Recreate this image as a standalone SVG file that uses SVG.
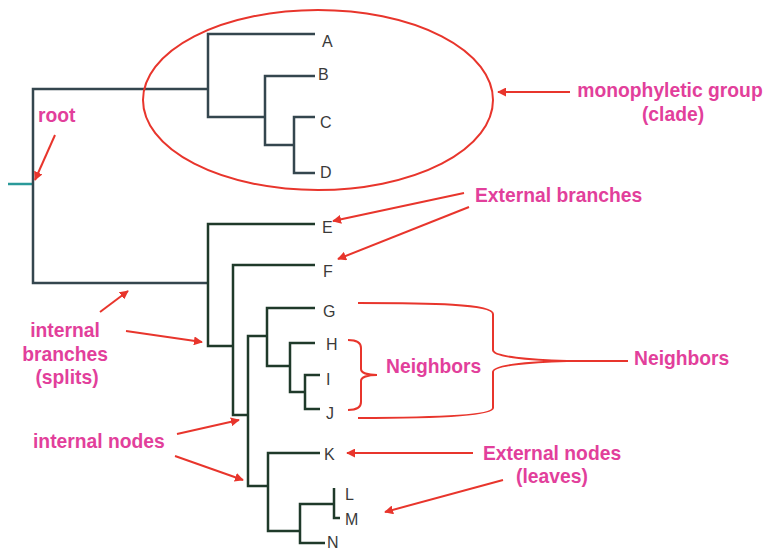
<svg xmlns="http://www.w3.org/2000/svg" width="773" height="552" viewBox="0 0 773 552">
  <style>
    .bg { fill: #ffffff; }
    .slate { fill: none; stroke: #34464e; stroke-width: 2.5; stroke-linejoin: miter; }
    .green { fill: none; stroke: #1f3a2a; stroke-width: 2.5; stroke-linejoin: miter; }
    .stub { fill: none; stroke: #2a9a9a; stroke-width: 2.5; }
    .leaf { font-family: "Liberation Sans", Arial, sans-serif; font-size: 16px; fill: #3a3a3a; }
    .note { font-family: "Liberation Sans", Arial, sans-serif; font-size: 19.3px; font-weight: bold; fill: #e23f9b; }
    .red { fill: none; stroke: #e8352c; stroke-width: 2; }
    .arrow { fill: none; stroke: #e8352c; stroke-width: 2; marker-end: url(#head); }
  </style>
  <defs>
    <marker id="head" viewBox="0 0 10 10" refX="9" refY="5" markerWidth="4.5" markerHeight="4.5" orient="auto" markerUnits="strokeWidth">
      <path d="M0,0 L10,5 L0,10 z" fill="#e8352c"/>
    </marker>
  </defs>
  <rect class="bg" x="0" y="0" width="773" height="552"/>

  <!-- tree branches -->
  <g id="tree">
    <path class="stub" d="M8,184 H33"/>
    <path class="slate" d="M208,89 H33 V283 H208"/>
    <path class="slate" d="M315,34 H208 V117 H265"/>
    <path class="slate" d="M315,76 H265 V145 H294"/>
    <path class="slate" d="M315,117 H294 V173 H315"/>
    <path class="green" d="M315,224 H208 V346 H233"/>
    <path class="green" d="M315,265 H233 V415 H248"/>
    <path class="green" d="M267,336 H248 V486 H268"/>
    <path class="green" d="M315,308 H267 V366 H290"/>
    <path class="green" d="M315,343 H290 V392 H305"/>
    <path class="green" d="M320,375 H305 V409 H320"/>
    <path class="green" d="M320,453 H268 V531 H300"/>
    <path class="green" d="M325,543 H300 V504 H334"/>
    <path class="green" d="M334,488 V518 H340"/>
  </g>

  <!-- leaves -->
  <g id="leaf-A"><text class="leaf" x="322" y="47">A</text></g>
  <g id="leaf-B"><text class="leaf" x="318" y="80">B</text></g>
  <g id="leaf-C"><text class="leaf" x="320" y="128">C</text></g>
  <g id="leaf-D"><text class="leaf" x="320" y="178">D</text></g>
  <g id="leaf-E"><text class="leaf" x="322" y="233">E</text></g>
  <g id="leaf-F"><text class="leaf" x="323" y="277">F</text></g>
  <g id="leaf-G"><text class="leaf" x="323" y="317">G</text></g>
  <g id="leaf-H"><text class="leaf" x="326" y="350">H</text></g>
  <g id="leaf-I"><text class="leaf" x="326" y="385">I</text></g>
  <g id="leaf-J"><text class="leaf" x="326" y="419">J</text></g>
  <g id="leaf-K"><text class="leaf" x="324" y="460">K</text></g>
  <g id="leaf-L"><text class="leaf" x="345" y="500">L</text></g>
  <g id="leaf-M"><text class="leaf" x="345" y="525">M</text></g>
  <g id="leaf-N"><text class="leaf" x="327" y="548">N</text></g>

  <!-- clade outline -->
  <g id="clade">
    <ellipse class="red" cx="318" cy="100" rx="175" ry="90"/>
  </g>

  <!-- braces -->
  <g id="brace-small">
    <path class="red" d="M348,340 C356,340 361,342 361,348 L361,369 C361,373 368,375 377,375 C368,375 361,377 361,381 L361,402 C361,408 356,410 348,410"/>
  </g>
  <g id="brace-large">
    <path class="red" d="M358,303 C430,303 493,304 493,314 L493,350 C493,357 530,360 567,361 L628,361"/>
    <path class="red" d="M358,418 C430,418 493,416 493,408 L493,372 C493,365 530,362 567,361"/>
  </g>

  <!-- annotation labels -->
  <g id="label-root"><text class="note" x="38" y="122">root</text></g>
  <g id="label-clade">
    <text class="note" x="670" y="97" text-anchor="middle">monophyletic group</text>
    <text class="note" x="673" y="121" text-anchor="middle">(clade)</text>
  </g>
  <g id="label-external-branches"><text class="note" x="475" y="202">External branches</text></g>
  <g id="label-internal-branches">
    <text class="note" x="65" y="337" text-anchor="middle">internal</text>
    <text class="note" x="65" y="361" text-anchor="middle">branches</text>
    <text class="note" x="67" y="384" text-anchor="middle">(splits)</text>
  </g>
  <g id="label-neighbors-inner"><text class="note" x="386" y="373">Neighbors</text></g>
  <g id="label-neighbors-outer"><text class="note" x="634" y="365">Neighbors</text></g>
  <g id="label-internal-nodes"><text class="note" x="33" y="448">internal nodes</text></g>
  <g id="label-external-nodes">
    <text class="note" x="552" y="460" text-anchor="middle">External nodes</text>
    <text class="note" x="552" y="483" text-anchor="middle">(leaves)</text>
  </g>

  <!-- pointer arrows -->
  <g id="connectors">
    <path class="arrow" d="M55,135 L35,180"/>
    <path class="arrow" d="M570,92 L498,92"/>
    <path class="arrow" d="M464,193 L333,221"/>
    <path class="arrow" d="M469,207 L338,259"/>
    <path class="arrow" d="M100,312 L128,291"/>
    <path class="arrow" d="M126,331 L202,342"/>
    <path class="arrow" d="M177,434 L239,420"/>
    <path class="arrow" d="M175,456 L243,480"/>
    <path class="arrow" d="M473,453 L347,453"/>
    <path class="arrow" d="M503,480 L385,512"/>
  </g>
</svg>
